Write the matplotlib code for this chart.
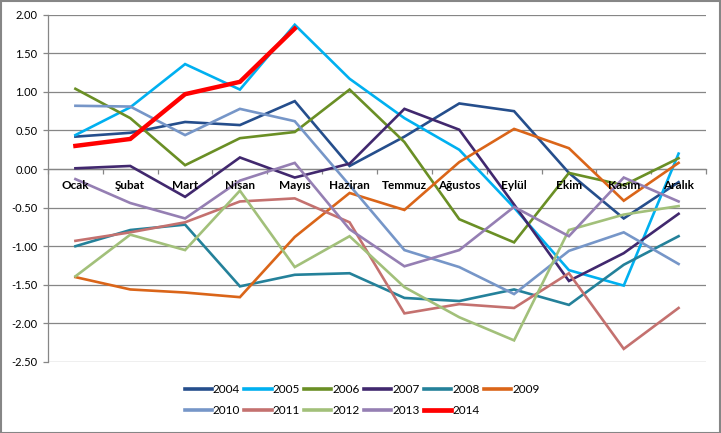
import numpy as np
import matplotlib
matplotlib.use("Agg")
from matplotlib import pyplot as plt
from matplotlib.patches import Rectangle

plt.rcParams['font.family'] = ['Lato', 'DejaVu Sans']

aylar = ["Ocak", "Şubat", "Mart", "Nisan", "Mayıs", "Haziran",
         "Temmuz", "Ağustos", "Eylül", "Ekim", "Kasım", "Aralık"]

y2004 = [0.42, 0.47, 0.61, 0.57, 0.88, 0.04, 0.42, 0.85, 0.75, -0.05, -0.64, -0.17]
y2005 = [0.44, 0.80, 1.36, 1.03, 1.87, 1.17, 0.66, 0.25, -0.50, -1.31, -1.51, 0.20]
y2006 = [1.04, 0.66, 0.05, 0.40, 0.48, 1.03, 0.35, -0.65, -0.95, -0.05, -0.21, 0.14]
y2007 = [0.01, 0.04, -0.36, 0.15, -0.11, 0.07, 0.78, 0.51, -0.46, -1.45, -1.09, -0.58]
y2008 = [-1.00, -0.79, -0.72, -1.52, -1.37, -1.35, -1.67, -1.71, -1.56, -1.76, -1.24, -0.87]
y2009 = [-1.40, -1.56, -1.60, -1.66, -0.88, -0.31, -0.53, 0.09, 0.52, 0.27, -0.41, 0.08]
y2010 = [0.82, 0.81, 0.44, 0.78, 0.62, -0.21, -1.05, -1.27, -1.62, -1.06, -0.82, -1.23]
y2011 = [-0.93, -0.82, -0.69, -0.42, -0.38, -0.69, -1.87, -1.75, -1.80, -1.35, -2.33, -1.80]
y2012 = [-1.39, -0.85, -1.05, -0.28, -1.27, -0.87, -1.53, -1.92, -2.22, -0.79, -0.59, -0.48]
y2013 = [-0.13, -0.44, -0.64, -0.15, 0.08, -0.78, -1.26, -1.05, -0.49, -0.87, -0.11, -0.42]
y2014 = [0.30, 0.39, 0.97, 1.13, 1.82]

seriler = [
    ("2004", y2004, "#254E8C", 1.9),
    ("2005", y2005, "#00B0F0", 1.9),
    ("2006", y2006, "#6A8F25", 1.9),
    ("2007", y2007, "#41286E", 1.9),
    ("2008", y2008, "#24819A", 1.9),
    ("2009", y2009, "#DA6519", 1.9),
    ("2010", y2010, "#7696C8", 1.9),
    ("2011", y2011, "#C4716F", 1.9),
    ("2012", y2012, "#A2C07A", 1.9),
    ("2013", y2013, "#957FB3", 1.9),
    ("2014", y2014, "#FF0000", 3.2),
]

fig = plt.figure(figsize=(7.21, 4.33), dpi=100)
ax = fig.add_axes([48 / 721, 1 - 362 / 433, (706 - 48) / 721, (362 - 14.7) / 433])

gri = "#868686"
cizgiler = []
for yil, degerler, renk, kalinlik in seriler:
    c, = ax.plot(np.arange(len(degerler)), degerler, color=renk, lw=kalinlik,
                 label=yil, solid_joinstyle="miter", zorder=3)
    cizgiler.append(c)

ax.set_xlim(-0.5, 11.5)
ax.set_ylim(-2.5, 2.0)
ax.set_yticks(np.arange(-2.5, 2.01, 0.5))
ax.set_yticklabels([f"{v:.2f}" for v in np.arange(-2.5, 2.01, 0.5)], fontsize=8)
ax.yaxis.grid(True, color=gri, lw=0.9)
ax.set_axisbelow(True)
ax.tick_params(axis="y", length=3.5, width=0.9, color=gri, pad=4)

ax.set_xticks(np.arange(-0.5, 12, 1))
ax.set_xticklabels([])
ax.tick_params(axis="x", length=3.5, width=0.9, color=gri, direction="out")

for k in ["top", "right"]:
    ax.spines[k].set_visible(False)
ax.spines["bottom"].set_position(("data", 0))
ax.spines["bottom"].set_color(gri)
ax.spines["left"].set_color(gri)
ax.spines["bottom"].set_linewidth(0.9)
ax.spines["left"].set_linewidth(0.9)

# ay isimleri cizgilerin ustunde
for i, ay in enumerate(aylar):
    ax.annotate(ay, (i, 0), xytext=(0, -11), textcoords="offset pixels",
                ha="center", va="top", fontsize=8.5, fontweight="bold", zorder=6)

# legend satir satir dolsun diye sira degistir
sira = [0, 6, 1, 7, 2, 8, 3, 9, 4, 10, 5]
leg = fig.legend([cizgiler[i] for i in sira], [seriler[i][0] for i in sira],
                 loc="center", bbox_to_anchor=(362 / 721, 1 - 400 / 433), ncol=6,
                 frameon=False, fontsize=8.5, handlelength=2.3, handletextpad=0.1,
                 columnspacing=0.35, labelspacing=0.85)
for h in leg.legend_handles:
    h.set_linewidth(2.6 if h.get_color() != "#FF0000" else 3.4)

fig.patches.append(Rectangle((0.001, 0.001), 0.997, 0.997, transform=fig.transFigure,
                             fill=False, edgecolor=gri, lw=1.5))

fig.savefig("out.png", dpi=100)
